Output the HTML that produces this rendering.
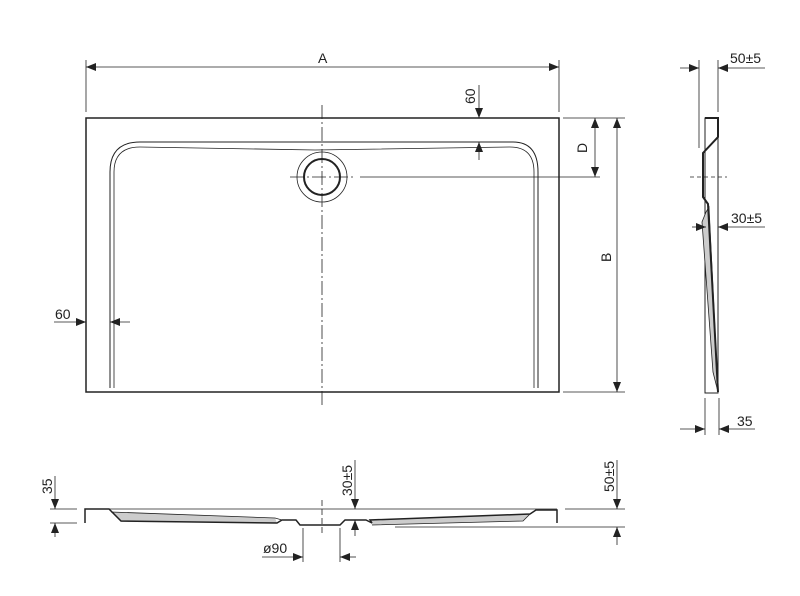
<!DOCTYPE html>
<html><head><style>body{margin:0;background:#fff}svg{display:block}text{font-family:"Liberation Sans",sans-serif;font-size:14px;fill:#222}</style></head><body>
<svg width="800" height="596" viewBox="0 0 800 596" xmlns="http://www.w3.org/2000/svg">
<defs><marker id="a" viewBox="0 0 10 8" refX="10" refY="4" markerWidth="10" markerHeight="8" markerUnits="userSpaceOnUse" orient="auto-start-reverse"><path d="M0,0 L10,4 L0,8z" fill="#222"/></marker></defs>
<g stroke="#222" fill="none" stroke-width="0.8">
<!-- top view -->
<rect x="86" y="118" width="473" height="274" stroke-width="1.5"/>
<path d="M110,388 L110,172 Q110,142 140,142 L513,142 Q538,142 538,172 L538,388" stroke-width="1"/>
<path d="M114,388 L114,172 Q114,147 140,147 L315,150 L510,147 Q534,147 534,172 L534,388"/>
<circle cx="322" cy="177" r="25"/><circle cx="322" cy="177" r="18" stroke-width="2"/>
<line x1="322" y1="105" x2="322" y2="408" stroke-dasharray="14,3,2,3"/>
<line x1="290" y1="177" x2="355" y2="177" stroke-dasharray="14,3,2,3"/>
<line x1="360" y1="177" x2="600" y2="177"/>
<!-- A -->
<line x1="86" y1="60" x2="86" y2="112"/><line x1="559" y1="60" x2="559" y2="112"/>
<line x1="86" y1="67" x2="559" y2="67" marker-start="url(#a)" marker-end="url(#a)"/>
<!-- 60 top -->
<line x1="479" y1="85" x2="479" y2="118" marker-end="url(#a)"/>
<line x1="479" y1="160" x2="479" y2="142" marker-end="url(#a)"/>
<!-- D, B -->
<line x1="563" y1="118" x2="625" y2="118"/><line x1="563" y1="392" x2="625" y2="392"/>
<line x1="595" y1="118" x2="595" y2="177" marker-start="url(#a)" marker-end="url(#a)"/>
<line x1="617" y1="118" x2="617" y2="392" marker-start="url(#a)" marker-end="url(#a)"/>
<!-- 60 left -->
<line x1="54" y1="322" x2="86" y2="322" marker-end="url(#a)"/>
<line x1="130" y1="322" x2="110" y2="322" marker-end="url(#a)"/>
<!-- side view -->
<path d="M705,118 L718,118 L718,393 L705,393 Z" fill="#fff" stroke-width="1"/>
<path d="M702,222 L706,212 L709,207 L718,392 L713,372 Z" fill="#ccc" stroke-width="0.8"/>
<path d="M705,118 L718,118 L718,137 L703,153 L703,197 L708,204 L718,392" stroke-width="2"/>
<line x1="690" y1="177" x2="727" y2="177" stroke-dasharray="4,3"/>
<line x1="699" y1="60" x2="699" y2="148"/><line x1="718" y1="60" x2="718" y2="112"/>
<line x1="680" y1="68" x2="699" y2="68" marker-end="url(#a)"/>
<line x1="765" y1="68" x2="718" y2="68" marker-end="url(#a)"/>
<line x1="692" y1="227" x2="706" y2="227" marker-end="url(#a)"/>
<line x1="765" y1="227" x2="718" y2="227" marker-end="url(#a)"/>
<line x1="705" y1="398" x2="705" y2="435"/><line x1="719" y1="398" x2="719" y2="435"/>
<line x1="680" y1="429" x2="705" y2="429" marker-end="url(#a)"/>
<line x1="755" y1="429" x2="719" y2="429" marker-end="url(#a)"/>
<!-- bottom view -->
<line x1="85" y1="509" x2="557" y2="509"/>
<path d="M111,512 L275,518 L277,523 L121,522 Z" fill="#ccc" stroke="none"/>
<path d="M370,520 L530,514 L523,521 L372,525 Z" fill="#ccc" stroke="none"/>
<path d="M85,523 L85,509 L109,509 L121,521 L277,523 L282,520 L296,520 L300,525 L340,525 L345,520 L366,520 L372,523" stroke-width="1.5"/>
<path d="M111,512 L275,518 L282,520"/>
<path d="M372,523 L370,520 L530,514 L536,510 L557,510 L557,523" stroke-width="1.5"/>
<path d="M372,525 L523,521 L530,514"/>
<line x1="322" y1="500" x2="322" y2="535" stroke-dasharray="6,3"/>
<line x1="50" y1="509" x2="77" y2="509"/><line x1="50" y1="523" x2="77" y2="523"/>
<line x1="55" y1="476" x2="55" y2="509" marker-end="url(#a)"/>
<line x1="55" y1="537" x2="55" y2="523" marker-end="url(#a)"/>
<line x1="355" y1="460" x2="355" y2="509" marker-end="url(#a)"/>
<line x1="355" y1="536" x2="355" y2="520" marker-end="url(#a)"/>
<line x1="565" y1="509" x2="625" y2="509"/><line x1="395" y1="527" x2="625" y2="527"/>
<line x1="617" y1="460" x2="617" y2="509" marker-end="url(#a)"/>
<line x1="617" y1="545" x2="617" y2="527" marker-end="url(#a)"/>
<line x1="303" y1="528" x2="303" y2="562"/><line x1="340" y1="528" x2="340" y2="562"/>
<line x1="262" y1="557" x2="303" y2="557" marker-end="url(#a)"/>
<line x1="356" y1="557" x2="340" y2="557" marker-end="url(#a)"/>
</g>
<text x="318" y="63">A</text>
<text x="55" y="319">60</text>
<text transform="translate(475,104) rotate(-90)">60</text>
<text transform="translate(587,153) rotate(-90)">D</text>
<text transform="translate(611,262) rotate(-90)">B</text>
<text x="730" y="63">50±5</text>
<text x="731" y="223">30±5</text>
<text x="737" y="426">35</text>
<text transform="translate(52,494) rotate(-90)">35</text>
<text transform="translate(352,496) rotate(-90)">30±5</text>
<text transform="translate(614,492) rotate(-90)">50±5</text>
<text x="263" y="553">ø90</text>
</svg>
</body></html>
